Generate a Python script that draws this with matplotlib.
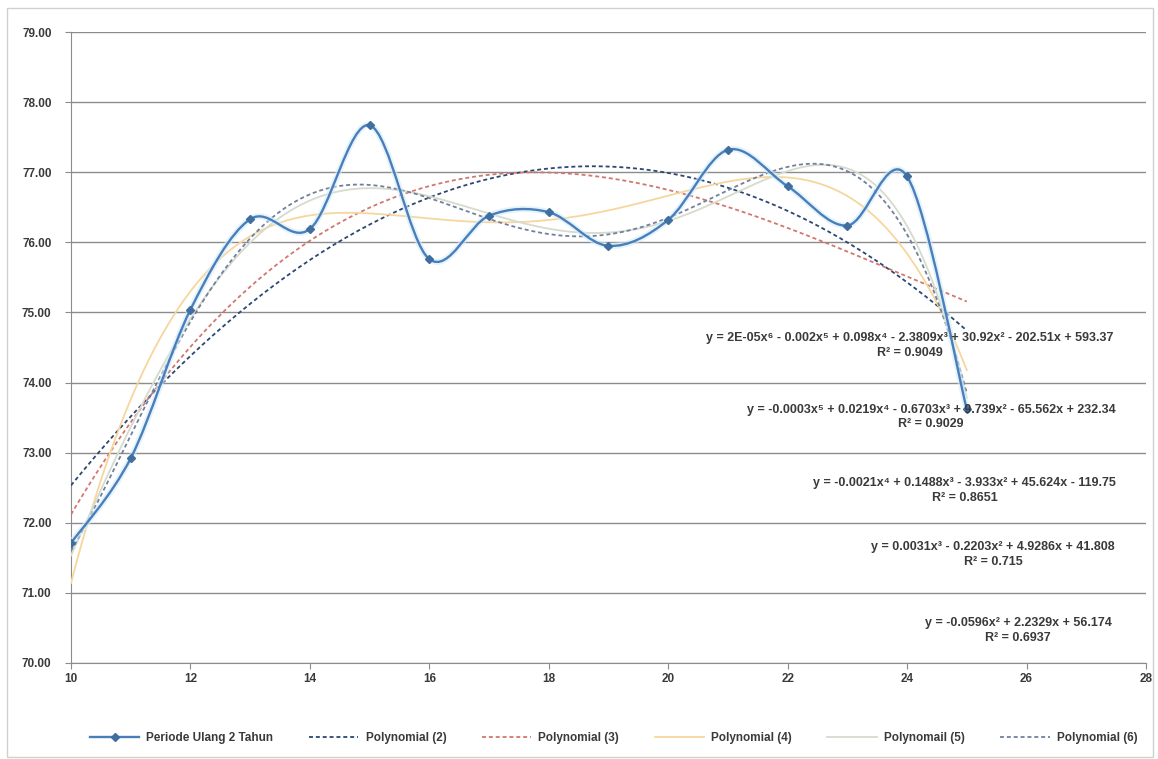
import numpy as np
import matplotlib
matplotlib.use("Agg")
import matplotlib.pyplot as plt
from matplotlib.path import Path
from matplotlib.patches import PathPatch, Rectangle
from matplotlib.lines import Line2D

plt.rcParams['font.family'] = ['Liberation Sans Narrow', 'Liberation Sans', 'DejaVu Sans']

# Periode Ulang 2 Tahun
x = np.arange(10, 26)
y = np.array([71.71, 72.92, 75.04, 76.33, 76.19, 77.67, 75.76, 76.38,
              76.43, 75.95, 76.32, 77.32, 76.80, 76.24, 76.94, 73.62])

series_name = "Periode Ulang 2 Tahun"
degrees = [2, 3, 4, 5, 6]
trend_names = ["Polynomial (2)", "Polynomial (3)", "Polynomial (4)",
               "Polynomail (5)", "Polynomial (6)"]
trend_colors = ["#2C4770", "#D2776E", "#F7D69E", "#D6DBCC", "#6F819E"]
trend_styles = [(0, (2.2, 1.6)), (0, (2.2, 1.6)), '-', '-', (0, (2.2, 1.6))]

equations = {
    6: ("y = 2E-05x⁶ - 0.002x⁵ + 0.098x⁴ - 2.3809x³ + 30.92x² - 202.51x + 593.37", "R² = 0.9049"),
    5: ("y = -0.0003x⁵ + 0.0219x⁴ - 0.6703x³ + 9.739x² - 65.562x + 232.34", "R² = 0.9029"),
    4: ("y = -0.0021x⁴ + 0.1488x³ - 3.933x² + 45.624x - 119.75", "R² = 0.8651"),
    3: ("y = 0.0031x³ - 0.2203x² + 4.9286x + 41.808", "R² = 0.715"),
    2: ("y = -0.0596x² + 2.2329x + 56.174", "R² = 0.6937"),
}
# label anchor (x centre, y of first line) in data units
eq_pos = {6: (24.05, 74.72), 5: (24.4, 73.70), 4: (24.96, 72.65), 3: (25.44, 71.74), 2: (25.86, 70.65)}

fig = plt.figure(figsize=(11.58, 7.59), dpi=100)
ax = fig.add_axes([0.0613, 0.1265, 0.9283, 0.8313])
fig.patches.append(Rectangle((0.006, 0.003), 0.99, 0.987, transform=fig.transFigure,
                             fill=False, edgecolor="#D0D0D0", linewidth=1.0))

ax.set_xlim(10, 28)
ax.set_ylim(70, 79)
ax.set_xticks(np.arange(10, 29, 2))
ax.set_yticks(np.arange(70, 79.5, 1))
ax.yaxis.set_major_formatter(matplotlib.ticker.FormatStrFormatter('%.2f'))
ax.grid(axis='y', color="#8C8C8C", linewidth=1.0)
ax.set_axisbelow(True)
for s in ['top', 'right']:
    ax.spines[s].set_visible(False)
for s in ['left', 'bottom']:
    ax.spines[s].set_color("#8C8C8C")
ax.tick_params(axis='both', colors="#8C8C8C", length=4, labelsize=8.5, labelcolor="#3A3A3A")
ax.tick_params(axis='y', pad=10)
for lab in ax.get_xticklabels() + ax.get_yticklabels():
    lab.set_fontweight('bold')

# polynomial trendlines fitted to the series
xs = np.linspace(x[0], x[-1], 300)
handles = []
for d, name, c, ls in zip(degrees, trend_names, trend_colors, trend_styles):
    coef = np.polyfit(x, y, d)
    ax.plot(xs, np.polyval(coef, xs), color=c, linestyle=ls, linewidth=1.3, zorder=3)
    handles.append(Line2D([], [], color=c, linestyle=ls, linewidth=1.3))

# smoothed series line (cubic Bezier through the points)
pts = np.column_stack([x, y]).astype(float)
verts = [pts[0]]
codes = [Path.MOVETO]
n = len(pts)
for i in range(n - 1):
    p0 = pts[max(i - 1, 0)]
    p1 = pts[i]
    p2 = pts[i + 1]
    p3 = pts[min(i + 2, n - 1)]
    verts += [p1 + (p2 - p0) / 6, p2 - (p3 - p1) / 6, p2]
    codes += [Path.CURVE4] * 3
path = Path(verts, codes)
ax.add_patch(PathPatch(path, fill=False, edgecolor="#D4EEFB", linewidth=4.5, alpha=0.6, zorder=4))
ax.add_patch(PathPatch(path, fill=False, edgecolor="#4A7EBB", linewidth=1.7, zorder=5))
ax.plot(x, y, linestyle='none', marker='D', markersize=4.5, color="#3F6E9F", zorder=6)
series_handle = Line2D([], [], color="#4A7EBB", linewidth=1.7, marker='D',
                       markersize=4.5, markerfacecolor="#3F6E9F", markeredgecolor="#3F6E9F")

for d, (eq, r2) in equations.items():
    ex, ey = eq_pos[d]
    ax.text(ex, ey, eq + "\n" + r2, ha='center', va='top', fontsize=9,
            fontweight='bold', color="#3A3A3A", linespacing=1.3, zorder=7)

leg = fig.legend([series_handle] + handles, [series_name] + trend_names,
                 loc='center', bbox_to_anchor=(0.53, 0.028), ncol=6, frameon=False,
                 handlelength=4.2, columnspacing=3.0, handletextpad=0.6,
                 prop={'weight': 'bold', 'size': 8.5})
for t in leg.get_texts():
    t.set_color("#3A3A3A")

fig.savefig("out.png", dpi=100)
